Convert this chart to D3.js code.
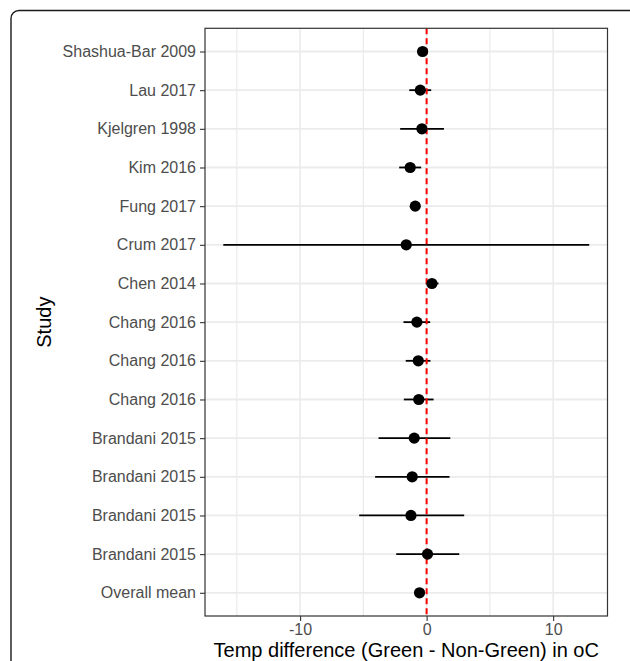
<!DOCTYPE html>
<html><head><meta charset="utf-8">
<script src="https://cdn.jsdelivr.net/npm/d3@7"></script>
<style>html,body{margin:0;padding:0;background:#fff;}svg{display:block;}</style>
</head><body>
<script>
const studies = ["Shashua-Bar 2009","Lau 2017","Kjelgren 1998","Kim 2016","Fung 2017","Crum 2017","Chen 2014","Chang 2016","Chang 2016","Chang 2016","Brandani 2015","Brandani 2015","Brandani 2015","Brandani 2015","Overall mean"];
const estimates = [-0.32,-0.50,-0.37,-1.30,-0.90,-1.61,0.42,-0.77,-0.66,-0.62,-0.98,-1.14,-1.24,0.07,-0.56];
const lower =     [-0.60,-1.37,-2.09,-2.17,-1.15,-16.07,-0.06,-1.83,-1.65,-1.80,-3.80,-4.07,-5.33,-2.40,-0.80];
const upper =     [-0.05,0.36,1.37,-0.43,-0.65,12.85,0.94,0.28,0.30,0.55,1.87,1.81,2.97,2.58,-0.32];
const xTicks = [-10,0,10];
const xMinor = [-15,-5,5];
const xTitle = "Temp difference (Green - Non-Green) in oC";
const yTitle = "Study";

const W = 630, H = 661;
const P = {left:205, right:607.5, top:28.3, bottom:616};
const font = "'Liberation Sans', Arial, sans-serif";

const svg = d3.select("body").append("svg").attr("width",W).attr("height",H);

// outer frame
svg.append("rect").attr("x",11).attr("y",10.5).attr("width",626).attr("height",700)
  .attr("rx",8).attr("fill","none").attr("stroke","#1a1a1a").attr("stroke-width",1.4);

const rows = studies.map((s,i)=>({key:i, label:s, est:estimates[i], lo:lower[i], hi:upper[i]}));
const lo = d3.min(lower), hi = d3.max(upper), pad = (hi-lo)*0.05;
const x = d3.scaleLinear().domain([lo-pad, hi+pad]).range([P.left,P.right]);
const y = d3.scalePoint().domain(rows.map(r=>r.key)).range([P.top,P.bottom]).padding(0.6);

const g = svg.append("g");
// grid
g.selectAll(".vmin").data(xMinor).join("line")
  .attr("x1",d=>x(d)).attr("x2",d=>x(d)).attr("y1",P.top).attr("y2",P.bottom)
  .attr("stroke","#ebebeb").attr("stroke-width",1.2);
g.selectAll(".vmaj").data(xTicks).join("line")
  .attr("x1",d=>x(d)).attr("x2",d=>x(d)).attr("y1",P.top).attr("y2",P.bottom)
  .attr("stroke","#ebebeb").attr("stroke-width",1.6);
g.selectAll(".hmaj").data(rows).join("line")
  .attr("x1",P.left).attr("x2",P.right).attr("y1",d=>y(d.key)).attr("y2",d=>y(d.key))
  .attr("stroke","#ebebeb").attr("stroke-width",1.8);

// error bars
g.selectAll(".err").data(rows).join("line")
  .attr("x1",d=>x(d.lo)).attr("x2",d=>x(d.hi)).attr("y1",d=>y(d.key)).attr("y2",d=>y(d.key))
  .attr("stroke","#000").attr("stroke-width",1.8);
// reference line
g.append("line").attr("x1",x(0)).attr("x2",x(0)).attr("y1",P.top).attr("y2",P.bottom)
  .attr("stroke","#ff0000").attr("stroke-width",2).attr("stroke-dasharray","6,4");
// points
g.selectAll(".pt").data(rows).join("circle")
  .attr("cx",d=>x(d.est)).attr("cy",d=>y(d.key)).attr("r",5.6).attr("fill","#000");

// panel border
svg.append("rect").attr("x",P.left).attr("y",P.top).attr("width",P.right-P.left).attr("height",P.bottom-P.top)
  .attr("fill","none").attr("stroke","#333").attr("stroke-width",1.2);

// axes
const xAxis = svg.append("g").attr("transform",`translate(0,${P.bottom})`)
  .call(d3.axisBottom(x).tickValues(xTicks).tickSize(5).tickPadding(3).tickFormat(d3.format("d")));
xAxis.select(".domain").remove();
xAxis.selectAll("line").attr("stroke","#333").attr("stroke-width",1.1);
xAxis.selectAll("text").attr("fill","#4d4d4d").style("font-family",font).style("font-size","16px")
  .text(d=>String(d).replace("−","-"));

const yAxis = svg.append("g").attr("transform",`translate(${P.left},0)`)
  .call(d3.axisLeft(y).tickSize(5).tickPadding(4).tickFormat(k=>studies[k]));
yAxis.select(".domain").remove();
yAxis.selectAll("line").attr("stroke","#333").attr("stroke-width",1.1);
yAxis.selectAll("text").attr("fill","#4d4d4d").style("font-family",font).style("font-size","16px");

// titles
svg.append("text").attr("x",(P.left+P.right)/2).attr("y",656.8).attr("text-anchor","middle")
  .style("font-family",font).style("font-size","20px").attr("fill","#000").text(xTitle);
svg.append("text").attr("transform",`translate(51,${(P.top+P.bottom)/2}) rotate(-90)`).attr("text-anchor","middle")
  .style("font-family",font).style("font-size","20px").attr("fill","#000").text(yTitle);
</script>
</body></html>
